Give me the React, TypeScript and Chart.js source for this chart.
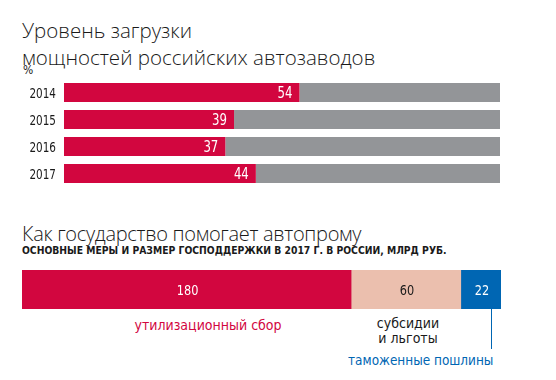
import React, { useEffect, useRef } from "react";
import { Chart, registerables } from "chart.js";

Chart.register(...registerables);

const years = ["2014", "2015", "2016", "2017"];
const loadValues = [54, 39, 37, 44];
const restValues = [46, 61, 63, 56];

const supportCategories = ["утилизационный сбор", "субсидии и льготы", "таможенные пошлины"];
const supportValues = [180, 60, 22];

const RED = "#D2063F";
const GRAY = "#939598";
const PINK = "#EBBFAE";
const BLUE = "#0066B3";
const TEXT = "#1a1a1a";
const NARROW = "'DejaVu Sans Condensed', 'DejaVu Sans', sans-serif";
const LIGHT = "'Open Sans', sans-serif";

function narrowText(ctx: CanvasRenderingContext2D, text: string, x: number, y: number, align: CanvasTextAlign, k: number) {
  ctx.save();
  ctx.translate(x, y);
  ctx.scale(k, 1);
  ctx.textAlign = align;
  ctx.fillText(text, 0, 0);
  ctx.restore();
}

const loadLabelsPlugin = {
  id: "loadLabels",
  afterDatasetsDraw(chart: any) {
    const meta = chart.getDatasetMeta(0);
    const ctx = chart.ctx as CanvasRenderingContext2D;
    const yScale = chart.scales.y;
    ctx.save();
    ctx.textBaseline = "alphabetic";
    ctx.font = `15px ${NARROW}`;
    ctx.fillStyle = "#ffffff";
    meta.data.forEach((el: any, i: number) => {
      narrowText(ctx, String(loadValues[i]), el.x - 7, el.y + 5.5, "right", 0.87);
    });
    ctx.font = `14.5px ${NARROW}`;
    ctx.fillStyle = TEXT;
    chart.data.labels.forEach((lab: string, i: number) => {
      const y = yScale.getPixelForValue(i);
      narrowText(ctx, lab, 56, y + 5, "right", 0.8);
    });
    ctx.restore();
  },
};

const supportLabelsPlugin = {
  id: "supportLabels",
  afterDatasetsDraw(chart: any) {
    const ctx = chart.ctx as CanvasRenderingContext2D;
    ctx.save();
    ctx.font = `14px ${NARROW}`;
    ctx.textBaseline = "alphabetic";
    const colors = ["#ffffff", TEXT, "#ffffff"];
    chart.data.datasets.forEach((ds: any, i: number) => {
      const el = chart.getDatasetMeta(i).data[0] as any;
      const cx = (el.x + el.base) / 2;
      ctx.fillStyle = colors[i];
      narrowText(ctx, String(ds.data[0]), cx + 1, el.y + 5, "center", 0.9);
    });
    ctx.restore();
  },
};

export default function App() {
  const ref1 = useRef<HTMLCanvasElement>(null);
  const ref2 = useRef<HTMLCanvasElement>(null);

  useEffect(() => {
    const c1 = new Chart(ref1.current!, {
      type: "bar",
      data: {
        labels: years,
        datasets: [
          { data: loadValues, backgroundColor: RED, barPercentage: 0.7, categoryPercentage: 1 },
          { data: restValues, backgroundColor: GRAY, barPercentage: 0.7, categoryPercentage: 1 },
        ],
      },
      options: {
        indexAxis: "y",
        animation: false,
        responsive: false,
        maintainAspectRatio: false,
        layout: { padding: { left: 64, right: 56, top: 0, bottom: 0 } },
        plugins: { legend: { display: false }, tooltip: { enabled: false } },
        scales: {
          x: { stacked: true, min: 0, max: 100, display: false },
          y: { stacked: true, display: false },
        },
      },
      plugins: [loadLabelsPlugin],
    });

    const c2 = new Chart(ref2.current!, {
      type: "bar",
      data: {
        labels: ["2017"],
        datasets: supportValues.map((v, i) => ({
          label: supportCategories[i],
          data: [v],
          backgroundColor: [RED, PINK, BLUE][i],
          barPercentage: 1,
          categoryPercentage: 1,
        })),
      },
      options: {
        indexAxis: "y",
        animation: false,
        responsive: false,
        maintainAspectRatio: false,
        layout: { padding: { left: 22, right: 55, top: 0, bottom: 0 } },
        plugins: { legend: { display: false }, tooltip: { enabled: false } },
        scales: {
          x: { stacked: true, min: 0, max: 262, display: false },
          y: { stacked: true, display: false },
        },
      },
      plugins: [supportLabelsPlugin],
    });

    return () => {
      c1.destroy();
      c2.destroy();
    };
  }, []);

  const abs = (s: React.CSSProperties): React.CSSProperties => ({ position: "absolute", margin: 0, whiteSpace: "nowrap", ...s });

  return (
    <div style={{ position: "fixed", left: 0, top: 0, width: 556, height: 380, background: "#fff", overflow: "hidden" }}>
      <div style={abs({ left: 22, top: 16.5, fontFamily: LIGHT, fontWeight: 300, fontSize: 20.5, lineHeight: "27px", color: TEXT })}>
        Уровень загрузки
        <br />
        мощностей российских автозаводов
      </div>
      <div style={abs({ left: 23, top: 62.5, fontFamily: NARROW, fontSize: 12, lineHeight: "14px", color: TEXT })}>%</div>
      <canvas ref={ref1} width={556} height={108} style={abs({ left: 0, top: 79, width: 556, height: 108 })} />

      <div style={abs({ left: 22, top: 221, fontFamily: LIGHT, fontWeight: 300, fontSize: 20, lineHeight: "26px", letterSpacing: "-0.3px", color: TEXT })}>
        Как государство помогает автопрому
      </div>
      <div style={abs({ left: 22, top: 243.7, fontFamily: NARROW, fontWeight: 700, fontSize: 10.3, lineHeight: "12px", color: TEXT })}>
        ОСНОВНЫЕ МЕРЫ И РАЗМЕР ГОСПОДДЕРЖКИ В 2017 Г. В РОССИИ, МЛРД РУБ.
      </div>
      <canvas ref={ref2} width={556} height={39} style={abs({ left: 0, top: 270, width: 556, height: 39 })} />

      <div style={abs({ left: 108, width: 200, top: 317, textAlign: "center", fontFamily: NARROW, fontSize: 14, lineHeight: "16px", color: RED })}>
        {supportCategories[0]}
      </div>
      <div style={abs({ left: 358, top: 315.6, width: 100, textAlign: "center", fontFamily: NARROW, fontSize: 14, lineHeight: "15px", color: TEXT })}>
        субсидии
        <br />и льготы
      </div>
      <div style={abs({ left: 491, top: 309, width: 1, height: 40, background: BLUE })} />
      <div style={abs({ right: 63, top: 352, fontFamily: NARROW, fontSize: 14, lineHeight: "16px", color: BLUE, transform: "scaleX(0.96)", transformOrigin: "right" })}>
        {supportCategories[2]}
      </div>
    </div>
  );
}
